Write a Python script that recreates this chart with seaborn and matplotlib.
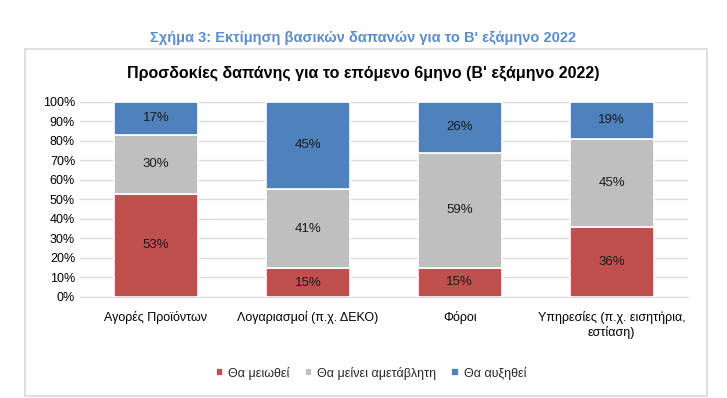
import matplotlib
matplotlib.use("Agg")
import matplotlib.pyplot as plt
import matplotlib.patches as mpatches
import seaborn as sns
import pandas as pd
import numpy as np

categories = ["Αγορές Προϊόντων", "Λογαριασμοί (π.χ. ΔΕΚΟ)", "Φόροι",
              "Υπηρεσίες (π.χ. εισητήρια,\nεστίαση)"]
decrease = [53, 14.6, 15, 36]
same = [30, 40.8, 59, 45]
increase = [17, 44.6, 26, 19]
series_names = ["Θα μειωθεί", "Θα μείνει αμετάβλητη", "Θα αυξηθεί"]
colors = ["#C0504D", "#BFBFBF", "#4F81BD"]
yticks = [0, 10, 20, 30, 40, 50, 60, 70, 80, 90, 100]

sns.set_style("white")
plt.rcParams["font.family"] = ["Liberation Sans", "DejaVu Sans"]

fig = plt.figure(figsize=(7.27, 3.98), dpi=100)
ax = fig.add_axes([0.110, 0.254, 0.836, 0.490])

# outer frame box
frame = mpatches.Rectangle((25 / 727, 2 / 398), 682 / 727, 347 / 398,
                           transform=fig.transFigure, fill=False,
                           edgecolor="#D9D9D9", linewidth=1.2)
fig.add_artist(frame)

df = pd.DataFrame({"cat": categories, "dec": decrease, "same": same, "inc": increase})
bottoms = np.zeros(len(categories))
for col, name, c in zip(["dec", "same", "inc"], series_names, colors):
    sns.barplot(data=df, x="cat", y=col, color=c, bottom=bottoms, width=0.55,
                saturation=1, edgecolor="white", linewidth=1.2, ax=ax,
                label=name, zorder=3)
    bottoms = bottoms + df[col].values

for cont in ax.containers:
    ax.bar_label(cont, labels=[f"{v:.0f}%" for v in cont.datavalues],
                 label_type="center", fontsize=9.5, color="#1a1a1a")

ax.set_ylim(0, 100)
ax.set_yticks(yticks)
ax.set_yticklabels([f"{v}%" for v in yticks])
ax.yaxis.grid(True, color="#D9D9D9", linewidth=1, zorder=0)
ax.set_axisbelow(True)
for s in ["top", "right", "left"]:
    ax.spines[s].set_visible(False)
ax.spines["bottom"].set_color("#D9D9D9")
ax.tick_params(axis="both", length=0, labelsize=9, colors="black")
ax.tick_params(axis="x", pad=10)
ax.set_xlabel("")
ax.set_ylabel("")

ax.legend(loc="upper center", bbox_to_anchor=(0.479, -0.30), ncol=3, frameon=False,
          fontsize=9, handlelength=0.6, handleheight=0.6, handletextpad=0.4,
          columnspacing=1.2)

fig.text(0.5, 1 - 38 / 398, "Σχήμα 3: Εκτίμηση βασικών δαπανών για το Β' εξάμηνο 2022",
         ha="center", va="center", fontsize=10.5, fontweight="bold", color="#5B8DC9")
fig.text(0.5, 1 - 73 / 398, "Προσδοκίες δαπάνης για το επόμενο 6μηνο (Β' εξάμηνο 2022)",
         ha="center", va="center", fontsize=11.5, fontweight="bold", color="black")

fig.savefig("out.png", dpi=100)
